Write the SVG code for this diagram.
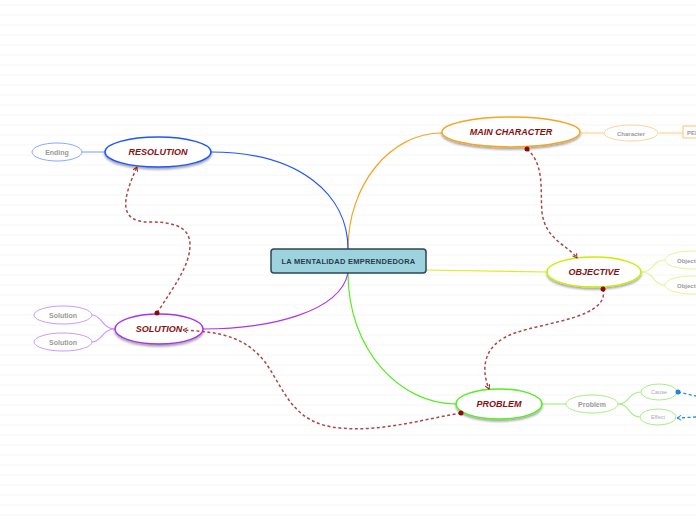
<svg xmlns="http://www.w3.org/2000/svg" width="696" height="520" viewBox="0 0 696 520">
<defs>
<pattern id="lines" x="0" y="0" width="696" height="10" patternUnits="userSpaceOnUse">
<rect x="0" y="4.5" width="696" height="1" fill="#f6f6f6"/>
</pattern>
<filter id="sh" x="-20%" y="-30%" width="140%" height="170%">
<feDropShadow dx="0" dy="2" stdDeviation="1" flood-color="#000" flood-opacity="0.35"/>
</filter>
<marker id="arr" viewBox="0 0 10 10" refX="8" refY="5" markerWidth="6" markerHeight="6" orient="auto" markerUnits="userSpaceOnUse">
<path d="M1,1 L8,5 L1,9" fill="none" stroke="#8b1a1a" stroke-width="1.6"/>
</marker>
<marker id="arrb" viewBox="0 0 10 10" refX="8" refY="5" markerWidth="6" markerHeight="6" orient="auto" markerUnits="userSpaceOnUse">
<path d="M1,1 L8,5 L1,9" fill="none" stroke="#2a8ad4" stroke-width="1.6"/>
</marker>
</defs>
<style>
.main{fill:#fff;stroke-width:1.5;filter:url(#sh)}
.sub{fill:#fff;stroke-width:1}
.mt{font-family:"Liberation Sans",Arial,sans-serif;font-size:9px;font-weight:bold;font-style:italic;fill:#8b1010;text-anchor:middle}
.st{font-family:"Liberation Sans",Arial,sans-serif;font-size:7px;font-weight:bold;fill:#9a9a9a;text-anchor:middle}
.tt{font-family:"Liberation Sans",Arial,sans-serif;font-size:5.5px;fill:#aaaaaa;text-anchor:middle}
.br{fill:none;stroke-width:1.2}
.rel{fill:none;stroke:#a84848;stroke-width:1.5;stroke-dasharray:3 2.5}
.relb{fill:none;stroke:#2a8ad4;stroke-width:1.3;stroke-dasharray:3 2.5}
.dot{fill:#8b0a0a}
</style>
<rect width="696" height="520" fill="#ffffff"/>
<rect width="696" height="520" fill="url(#lines)"/>

<g id="connectors">
<path class="br" stroke="#f5a623" d="M348,249 C348,185 390,133 442,133"/>
<path class="br" stroke="#1f55ff" d="M348,249 C348,195 300,152 211,152"/>
<path class="br" stroke="#d8ee22" d="M426,270 L547,272"/>
<path class="br" stroke="#55ee22" d="M348,273 C348,350 400,404 456,404"/>
<path class="br" stroke="#aa33ee" d="M348,273 C340,312 270,329 203,329"/>
<path class="br" stroke="#fcd49a" d="M581,133 L604,133"/>
<path class="br" stroke="#fcd49a" d="M659,133 L683,133"/>
<path class="br" stroke="#8aa8ff" d="M82,152 L105,152"/>
<path class="br" stroke="#e6f59a" d="M641,272 C655,272 652,260 665,260"/>
<path class="br" stroke="#e6f59a" d="M641,272 C655,272 652,285 665,285"/>
<path class="br" stroke="#aaee88" d="M542,404 L566,404"/>
<path class="br" stroke="#aaee88" d="M618,404 C630,404 628,392 641,392"/>
<path class="br" stroke="#aaee88" d="M618,404 C630,404 628,417 641,417"/>
<path class="br" stroke="#cc99ff" d="M115,329 C102,329 102,315 92,315"/>
<path class="br" stroke="#cc99ff" d="M115,329 C102,329 102,342 92,342"/>
</g>

<g id="central">
<rect x="271" y="249" width="155" height="24" rx="3" fill="#9dd3df" stroke="#2e4656" stroke-width="1.5"/>
<text x="348.5" y="263.5" font-family="'Liberation Sans',Arial,sans-serif" font-size="7.5px" letter-spacing="0.25" font-weight="bold" fill="#2a3a4a" text-anchor="middle">LA MENTALIDAD EMPRENDEDORA</text>
</g>

<g id="main-character">
<ellipse class="main" cx="511" cy="132" rx="69" ry="15" stroke="#f5a623"/>
<text class="mt" x="511" y="135">MAIN CHARACTER</text>
</g>
<g id="character">
<ellipse class="sub" cx="631" cy="133" rx="27" ry="8" stroke="#fcd49a"/>
<text class="st" x="631" y="135.5" style="font-size:6px">Character</text>
</g>
<g id="pe">
<rect x="683" y="126" width="30" height="12" fill="#fff" stroke="#fcc27a" stroke-width="1"/>
<text class="st" x="687" y="135" style="font-size:6px;text-anchor:start">PEI</text>
</g>

<g id="objective">
<ellipse class="main" cx="594" cy="272" rx="47" ry="15" stroke="#ccee00"/>
<text class="mt" x="594" y="275">OBJECTIVE</text>
</g>
<g id="objective-1">
<ellipse class="sub" cx="692" cy="260" rx="27" ry="9" stroke="#e6f59a"/>
<text class="st" x="677" y="262.5" style="font-size:6px;text-anchor:start">Objective</text>
</g>
<g id="objective-2">
<ellipse class="sub" cx="692" cy="285" rx="27" ry="9" stroke="#e6f59a"/>
<text class="st" x="677" y="287.5" style="font-size:6px;text-anchor:start">Objective</text>
</g>

<g id="problem">
<ellipse class="main" cx="499" cy="404" rx="43" ry="15" stroke="#55ee22"/>
<text class="mt" x="499" y="407">PROBLEM</text>
</g>
<g id="problem-sub">
<ellipse class="sub" cx="592" cy="404" rx="26" ry="9" stroke="#aaee88"/>
<text class="st" x="592" y="406.5">Problem</text>
</g>
<g id="cause">
<ellipse class="sub" cx="659" cy="392" rx="18" ry="8" stroke="#aaee88"/>
<text class="tt" x="659" y="394">Cause</text>
</g>
<g id="effect">
<ellipse class="sub" cx="658" cy="417" rx="18" ry="8" stroke="#aaee88"/>
<text class="tt" x="658" y="419">Effect</text>
</g>

<g id="resolution">
<ellipse class="main" cx="158" cy="152" rx="53" ry="15" stroke="#1f55ff"/>
<text class="mt" x="158" y="155">RESOLUTION</text>
</g>
<g id="ending">
<ellipse class="sub" cx="57" cy="152" rx="25" ry="9" stroke="#8aa8ff"/>
<text class="st" x="57" y="154.5">Ending</text>
</g>

<g id="solution">
<ellipse class="main" cx="159" cy="329" rx="44" ry="15" stroke="#aa33ee"/>
<text class="mt" x="159" y="332">SOLUTION</text>
</g>
<g id="solution-1">
<ellipse class="sub" cx="63" cy="315" rx="29" ry="9" stroke="#cc99ff"/>
<text class="st" x="63" y="317.5">Solution</text>
</g>
<g id="solution-2">
<ellipse class="sub" cx="63" cy="342" rx="29" ry="9" stroke="#cc99ff"/>
<text class="st" x="63" y="344.5">Solution</text>
</g>

<g id="relationships">
<path class="rel" marker-end="url(#arr)" d="M527,149 C545,165 540,190 542,212 C545,240 568,245 577,258"/>
<path class="rel" marker-end="url(#arr)" d="M603,289 C610,318 545,322 515,333 C480,345 482,372 489,389"/>
<path class="rel" marker-end="url(#arr)" d="M157,313 C175,285 190,265 190,245 C190,225 170,222 150,222 C118,222 122,200 137,167"/>
<path class="rel" marker-end="url(#arr)" d="M461,413 C420,420 380,432 340,428 C292,424 285,390 265,362 C245,337 222,332 183,330"/>
<path class="relb" d="M678,392 L696,396"/>
<path class="relb" marker-end="url(#arrb)" d="M696,417 L677,418"/>
<circle class="dot" cx="527" cy="149" r="2.5"/>
<circle class="dot" cx="603" cy="289" r="2.5"/>
<circle class="dot" cx="157" cy="313" r="2.5"/>
<circle class="dot" cx="461" cy="413" r="2.5"/>
<circle cx="678" cy="392" r="2.5" fill="#1a86d8"/>
</g>
</svg>
